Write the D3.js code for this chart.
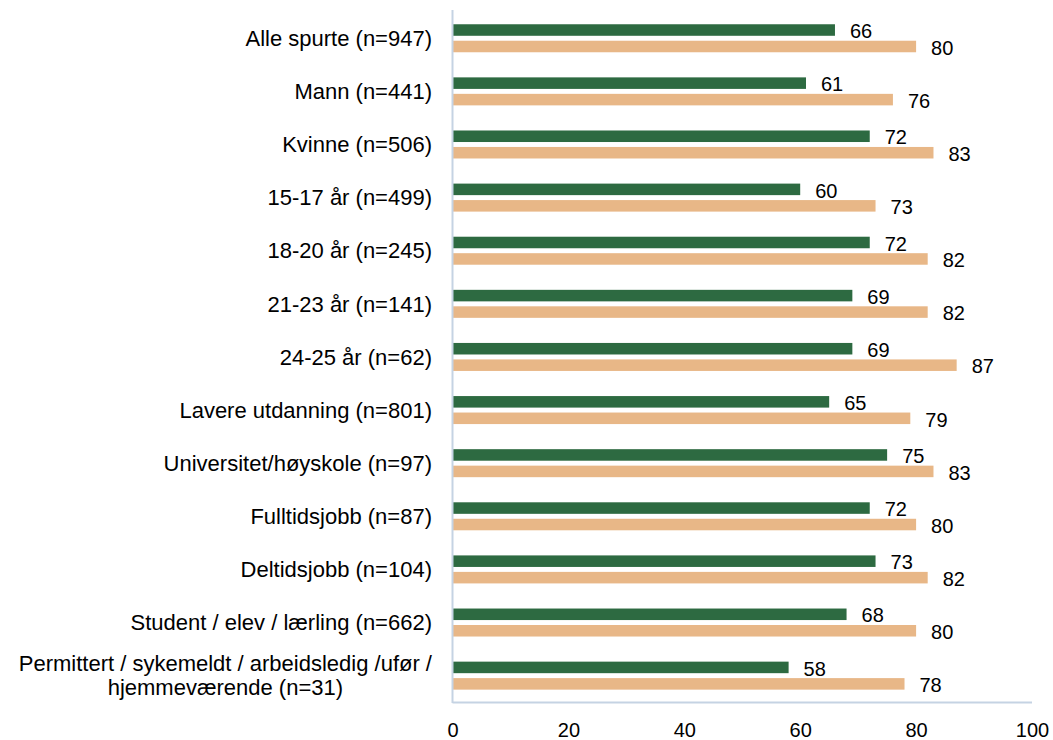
<!DOCTYPE html>
<html>
<head>
<meta charset="utf-8">
<script src="https://cdn.jsdelivr.net/npm/d3@7"></script>
<style>
  html, body { margin: 0; padding: 0; background: #fff; }
  svg { display: block; font-family: "Liberation Sans", Arial, sans-serif; }
</style>
</head>
<body>
<svg id="chart" width="1053" height="740"></svg>
<script>
const categories = [
  "Alle spurte (n=947)",
  "Mann (n=441)",
  "Kvinne (n=506)",
  "15-17 år (n=499)",
  "18-20 år (n=245)",
  "21-23 år (n=141)",
  "24-25 år (n=62)",
  "Lavere utdanning (n=801)",
  "Universitet/høyskole (n=97)",
  "Fulltidsjobb (n=87)",
  "Deltidsjobb (n=104)",
  "Student / elev / lærling (n=662)",
  "Permittert / sykemeldt / arbeidsledig /ufør /\nhjemmeværende (n=31)"
];
const seriesNames = ["A", "B"];
const seriesA = [66, 61, 72, 60, 72, 69, 69, 65, 75, 72, 73, 68, 58];
const seriesB = [80, 76, 83, 73, 82, 82, 87, 79, 83, 80, 82, 80, 78];
const xTicks = [0, 20, 40, 60, 80, 100];
const colors = ["#2d6a41", "#e8b787"];

const svg = d3.select("#chart");
const x = d3.scaleLinear().domain([0, 100]).range([452.5, 1032]);
const y = d3.scaleBand().domain(categories).range([11.5, 702]).padding(0);
const sub = d3.scaleBand().domain(seriesNames).range([-13.8, 14.2]).paddingInner(0.3);

const rows = categories.map((c, i) => ({ c, vals: [seriesA[i], seriesB[i]] }));

const g = svg.append("g");
const groups = g.selectAll("g.row").data(rows).join("g")
  .attr("class", "row")
  .attr("transform", d => `translate(0,${y(d.c) + y.bandwidth() / 2})`);

groups.selectAll("rect").data(d => d.vals.map((v, k) => ({ v, k }))).join("rect")
  .attr("x", x(0))
  .attr("y", d => sub(seriesNames[d.k]))
  .attr("width", d => x(d.v) - x(0))
  .attr("height", sub.bandwidth())
  .attr("fill", d => colors[d.k]);

groups.selectAll("text.val").data(d => d.vals.map((v, k) => ({ v, k }))).join("text")
  .attr("class", "val")
  .attr("x", d => x(d.v) + 15)
  .attr("y", d => sub(seriesNames[d.k]) + sub.bandwidth() / 2 + 1)
  .attr("dy", "0.36em")
  .attr("font-size", 20)
  .attr("fill", "#000")
  .text(d => d.v);

// category labels
const labelRight = 432;
groups.each(function(d) {
  const lines = d.c.split("\n");
  const t = d3.select(this).append("text")
    .attr("font-size", 22)
    .attr("fill", "#000");
  if (lines.length === 1) {
    t.attr("text-anchor", "end").attr("x", labelRight).attr("y", 0).attr("dy", "0.36em").text(lines[0]);
  } else {
    const lh = 24;
    const spans = lines.map((l, j) => t.append("tspan")
      .attr("y", (j - (lines.length - 1) / 2) * lh)
      .attr("dy", "0.36em")
      .text(l));
    let maxW = 0;
    spans.forEach(s => { maxW = Math.max(maxW, s.node().getComputedTextLength()); });
    t.attr("text-anchor", "middle");
    spans.forEach(s => s.attr("x", labelRight - maxW / 2));
  }
});

// axes lines
const axisColor = "#c5d3e3";
svg.append("line")
  .attr("x1", x(0)).attr("x2", x(0))
  .attr("y1", 10).attr("y2", 703)
  .attr("stroke", axisColor).attr("stroke-width", 2);
svg.append("line")
  .attr("x1", x(0)).attr("x2", x(100))
  .attr("y1", 702.5).attr("y2", 702.5)
  .attr("stroke", axisColor).attr("stroke-width", 2);

// x tick labels via d3 axis
const xAxis = d3.axisBottom(x).tickValues(xTicks).tickSize(0).tickPadding(0).tickFormat(d3.format("d"));
const ax = svg.append("g").attr("transform", "translate(0,723)").call(xAxis);
ax.select(".domain").remove();
ax.selectAll("text")
  .attr("font-size", 20)
  .attr("font-family", "\"Liberation Sans\", Arial, sans-serif")
  .attr("fill", "#000")
  .attr("dy", "0.71em");
</script>
</body>
</html>
